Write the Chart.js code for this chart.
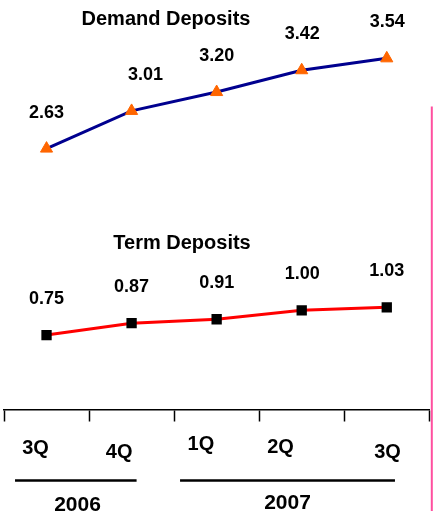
<!DOCTYPE html>
<html>
<head>
<meta charset="utf-8">
<script src="https://cdn.jsdelivr.net/npm/chart.js@4.4.1/dist/chart.umd.min.js"></script>
<style>
  html, body { margin: 0; padding: 0; background: #fff; }
  canvas { display: block; }
</style>
</head>
<body>
<canvas id="deposits" width="434" height="511"></canvas>
<script>
// Quarterly deposit balances
const periods = ['3Q 2006', '4Q 2006', '1Q 2007', '2Q 2007', '3Q 2007'];
const quarterLabels = ['3Q', '4Q', '1Q', '2Q', '3Q'];
const yearGroups = [
  { year: '2006', first: 0, last: 1 },
  { year: '2007', first: 2, last: 4 }
];
const demandDeposits = [2.63, 3.01, 3.20, 3.42, 3.54];
const termDeposits = [0.75, 0.87, 0.91, 1.00, 1.03];
const seriesTitles = ['Demand Deposits', 'Term Deposits'];

const FONT = '"Liberation Sans", Arial, sans-serif';

// Text, period labels, year brackets and the side rule drawn on top of the chart
const decorations = {
  id: 'decorations',
  afterDatasetsDraw(chart, args, opts) {
    const ctx = chart.ctx;
    const xs = chart.scales.x;
    const base = chart.chartArea.bottom;
    ctx.save();
    ctx.fillStyle = '#000';
    ctx.textAlign = 'center';
    ctx.textBaseline = 'alphabetic';

    // series headings
    ctx.font = 'bold 20px ' + FONT;
    ctx.fillText(seriesTitles[0], 166, 25);
    ctx.fillText(seriesTitles[1], 182, 249);

    // value labels above each point
    ctx.font = 'bold 18px ' + FONT;
    chart.data.datasets.forEach((ds, di) => {
      const meta = chart.getDatasetMeta(di);
      const shifts = opts.labelShift[di];
      meta.data.forEach((pt, i) => {
        ctx.fillText(ds.data[i].toFixed(2), pt.x + shifts[i], pt.y - 31);
      });
    });

    // quarter labels under the axis
    ctx.font = 'bold 20px ' + FONT;
    quarterLabels.forEach((q, i) => {
      const cx = xs.getPixelForValue(i) + opts.quarterDx[i];
      ctx.fillText(q, cx, base + opts.quarterDy[i]);
    });

    // year brackets
    ctx.strokeStyle = '#000';
    ctx.lineWidth = 2.5;
    ctx.font = 'bold 21px ' + FONT;
    yearGroups.forEach((g, k) => {
      const x0 = xs.getPixelForValue(g.first) + opts.yearLine[k][0];
      const x1 = xs.getPixelForValue(g.last) + opts.yearLine[k][1];
      ctx.beginPath();
      ctx.moveTo(x0, base + 71);
      ctx.lineTo(x1, base + 71);
      ctx.stroke();
      ctx.fillText(g.year, opts.yearText[k], base + opts.yearDy[k]);
    });

    // pink side rule
    ctx.strokeStyle = '#ff4f9f';
    ctx.lineWidth = 2;
    ctx.beginPath();
    ctx.moveTo(431.8, 106.5);
    ctx.lineTo(431.8, 511);
    ctx.stroke();
    ctx.restore();
  }
};

new Chart(document.getElementById('deposits'), {
  type: 'line',
  data: {
    labels: periods,
    datasets: [
      {
        label: seriesTitles[0],
        data: demandDeposits,
        borderColor: '#00008f',
        borderWidth: 3,
        pointStyle: 'triangle',
        pointRadius: 7,
        pointBackgroundColor: '#ff6600',
        pointBorderColor: '#ff6600',
        pointBorderWidth: 1,
        tension: 0
      },
      {
        label: seriesTitles[1],
        data: termDeposits,
        borderColor: '#ff0000',
        borderWidth: 3,
        pointStyle: 'rect',
        pointRadius: 7.3,
        pointBackgroundColor: '#000',
        pointBorderColor: '#000',
        pointBorderWidth: 0,
        tension: 0
      }
    ]
  },
  options: {
    responsive: false,
    animation: false,
    devicePixelRatio: 1,
    layout: { autoPadding: false, padding: { left: 4, right: 4.7, top: 12.7, bottom: 0 } },
    plugins: {
      legend: { display: false },
      tooltip: { enabled: false },
      decorations: {
        labelShift: [[0, 14, 0, 0.5, 0.5], [0, 0, 0, 0.5, 0]],
        quarterDx: [-11, -12.4, -15.8, -21.2, 0.7],
        quarterDy: [44.8, 48, 40.5, 43.1, 48.1],
        yearLine: [[-31.5, 5], [-36.6, 8.2]],
        yearText: [77.5, 287.5],
        yearDy: [101.5, 99.1]
      }
    },
    scales: {
      x: {
        type: 'category',
        offset: true,
        ticks: { display: false },
        grid: {
          display: true,
          drawOnChartArea: false,
          drawTicks: true,
          tickLength: 12,
          tickColor: '#000',
          tickWidth: 1.5,
          offset: true
        },
        border: { display: true, color: '#000', width: 1.5 },
        afterFit(scale) { scale.height = 101.5; }
      },
      y: {
        display: false,
        min: 0,
        max: 4
      }
    }
  },
  plugins: [decorations]
});
</script>
</body>
</html>
